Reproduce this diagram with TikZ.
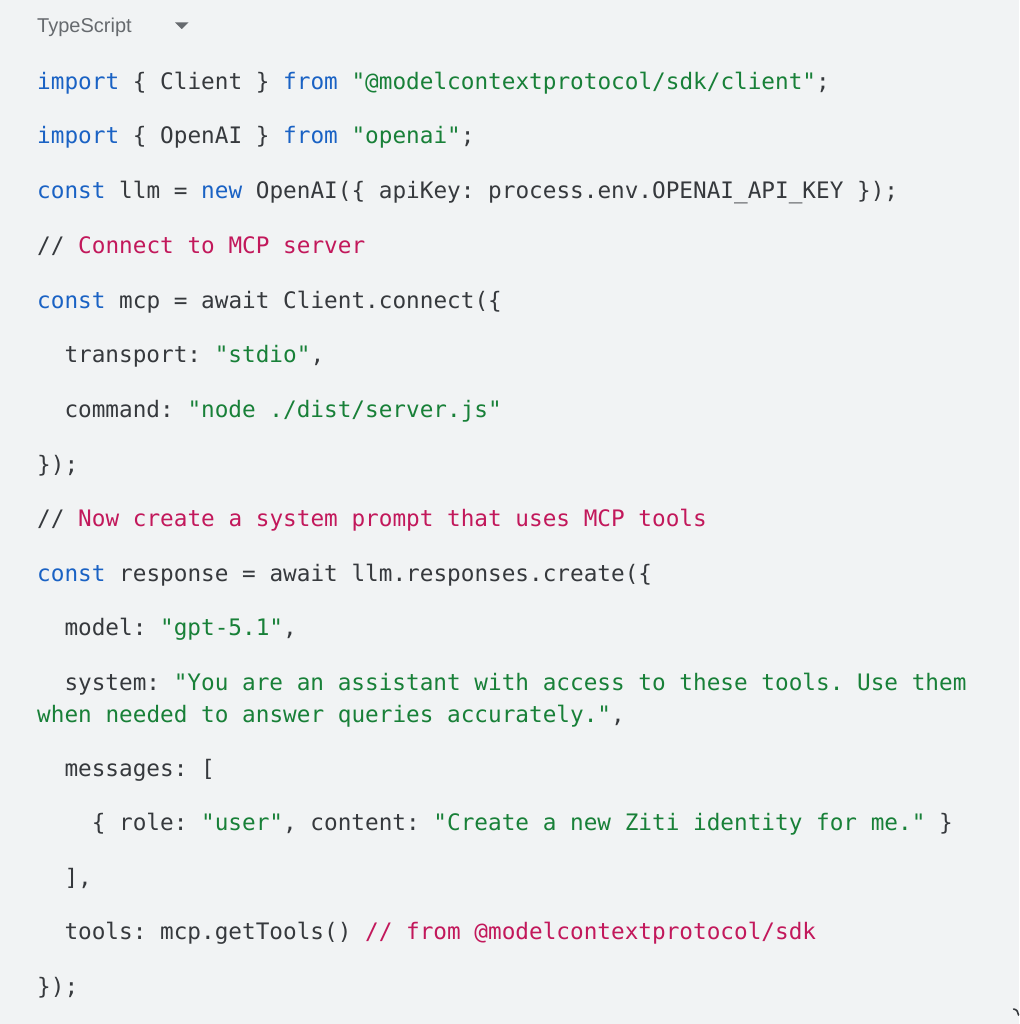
\documentclass[tikz,border=0pt]{standalone}
\usepackage{fontspec}
\setmainfont{Liberation Sans}
\newfontfamily\codefont{DejaVu Sans Mono}
\definecolor{codebg}{HTML}{F1F3F4}
\definecolor{plain}{HTML}{36393D}
\definecolor{langgrey}{HTML}{666A6E}
\definecolor{kwdblue}{HTML}{1A62C4}
\definecolor{strgreen}{HTML}{188038}
\definecolor{cmtpink}{HTML}{C2185B}
\newcommand{\kwd}[1]{\textcolor{kwdblue}{#1}}
\newcommand{\strg}[1]{\textcolor{strgreen}{#1}}
\newcommand{\cmt}[1]{\textcolor{cmtpink}{#1}}
\begin{document}
\begin{tikzpicture}[x=1pt,y=-1pt,
  code/.style={anchor=base west,inner sep=0pt,text=plain,
    font=\codefont\fontsize{22.7}{32}\selectfont\frenchspacing}]
\useasboundingbox (0,0) rectangle (1019,1024);
\fill[codebg] (0,0) rectangle (1019,1024);
% language bar
\node[anchor=base west,inner sep=0pt,text=langgrey,font=\fontsize{20}{24}\selectfont] (lang) at (37,33) {TypeScript};
\fill[langgrey] (175,22.5) -- (188.5,22.5) -- (181.75,29) -- cycle;
% code lines
\node[code] (imp1) at (37,90) {\kwd{import} \{ Client \} \kwd{from} \strg{"@modelcontextprotocol/sdk/client"};};
\node[code] (imp2) at (37,144) {\kwd{import} \{ OpenAI \} \kwd{from} \strg{"openai"};};
\node[code] (llm) at (37,199) {\kwd{const} llm = \kwd{new} OpenAI(\{ apiKey: process.env.OPENAI\_API\_KEY \});};
\node[code] (cmt1) at (37,253) {// \cmt{Connect to MCP server}};
\node[code] (mcp) at (37,308) {\kwd{const} mcp = await Client.connect(\{};
\node[code] (transp) at (64.3,362) {transport: \strg{"stdio"},};
\node[code] (cmd) at (64.3,417) {command: \strg{"node ./dist/server.js"}};
\node[code] (close1) at (37,472) {\});};
\node[code] (cmt2) at (37,526) {// \cmt{Now create a system prompt that uses MCP tools}};
\node[code] (resp) at (37,581) {\kwd{const} response = await llm.responses.create(\{};
\node[code] (model) at (64.3,635) {model: \strg{"gpt-5.1"},};
\node[code] (sys) at (64.3,690) {system: \strg{"You are an assistant with access to these tools. Use them}};
\node[code] (sys2) at (37,722) {\strg{when needed to answer queries accurately."},};
\node[code] (msgs) at (64.3,776) {messages: [};
\node[code] (role) at (91.6,830) {\{ role: \strg{"user"}, content: \strg{"Create a new Ziti identity for me."} \}};
\node[code] (msgend) at (64.3,885) {],};
\node[code] (tools) at (64.3,939) {tools: mcp.getTools() \cmt{// from @modelcontextprotocol/sdk}};
\node[code] (close2) at (37,994) {\});};
%\draw (0,0) rectangle (1019,1024);
\draw[plain,line width=1.6pt,line cap=round] (1013.5,1009) .. controls (1017,1010) .. (1018.5,1015);
\end{tikzpicture}
\end{document}
